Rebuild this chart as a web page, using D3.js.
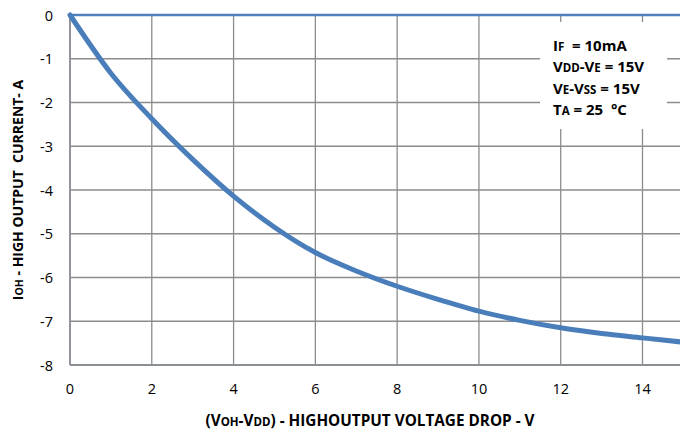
<!DOCTYPE html>
<html>
<head>
<meta charset="utf-8">
<script src="https://cdn.jsdelivr.net/npm/d3@7"></script>
<style>
  body { margin: 0; background: #fff; }
  svg { display: block; font-family: "Open Sans", Lato, sans-serif; }
  .grid line { stroke: #8c8c8c; stroke-width: 1.3; }
  .tick-label { font-size: 14.5px; fill: #000; }
  .title { font-size: 15.3px; font-weight: bold; fill: #000; }
  .note { font-size: 15px; font-weight: bold; fill: #000; }
</style>
</head>
<body>
<div id="chart"></div>
<script>
// curve
const dropV = [0, 1, 2, 3, 4, 5, 6, 7, 8, 9, 10, 11, 12, 13, 14, 15];
const currentA = [0, -1.33, -2.37, -3.3, -4.14, -4.85, -5.43, -5.85, -6.2, -6.5, -6.77, -6.98, -7.15, -7.28, -7.38, -7.48];
const xTicks = [0, 2, 4, 6, 8, 10, 12, 14];
const yTicks = [0, -1, -2, -3, -4, -5, -6, -7, -8];

const width = 680, height = 438;
const plotLeft = 70, plotTop = 15, plotBottom = 365;

const svg = d3.select("#chart").append("svg")
    .attr("width", width)
    .attr("height", height);

const x = d3.scaleLinear().domain([0, 14]).range([plotLeft, 642.5]);
const y = d3.scaleLinear().domain([0, -8]).range([plotTop, plotBottom]);

// grid
const grid = svg.append("g").attr("class", "grid");
grid.selectAll(".v").data(xTicks).enter().append("line")
    .attr("x1", d => x(d)).attr("x2", d => x(d))
    .attr("y1", plotTop).attr("y2", plotBottom);
grid.selectAll(".h").data(yTicks).enter().append("line")
    .attr("x1", plotLeft).attr("x2", width)
    .attr("y1", d => y(d)).attr("y2", d => y(d));

// axis lines
svg.append("line")
    .attr("x1", plotLeft).attr("x2", width)
    .attr("y1", plotBottom).attr("y2", plotBottom)
    .attr("stroke", "#8a8f96").attr("stroke-width", 2.2);
svg.append("line")
    .attr("x1", plotLeft).attr("x2", plotLeft)
    .attr("y1", plotTop).attr("y2", plotBottom)
    .attr("stroke", "#8a8f96").attr("stroke-width", 1.6);

// tick labels
svg.selectAll(".xl").data(xTicks).enter().append("text")
    .attr("class", "tick-label")
    .attr("x", d => x(d)).attr("y", 394)
    .attr("text-anchor", "middle")
    .text(d => d);
svg.selectAll(".yl").data(yTicks).enter().append("text")
    .attr("class", "tick-label")
    .attr("x", 53).attr("y", d => y(d) + 5.5)
    .attr("text-anchor", "end")
    .text(d => d);

// legend box covers the grid
svg.append("rect")
    .attr("x", 540).attr("y", 22)
    .attr("width", 127).attr("height", 107)
    .attr("fill", "#fff");

// top line, blue
svg.append("line")
    .attr("x1", plotLeft).attr("x2", width)
    .attr("y1", plotTop).attr("y2", plotTop)
    .attr("stroke", "#4F81BD").attr("stroke-width", 2.5);

// curve
const line = d3.line()
    .x(d => x(d[0]))
    .y(d => y(d[1]))
    .curve(d3.curveMonotoneX);

svg.append("path")
    .datum(dropV.map((v, i) => [v, currentA[i]]))
    .attr("d", line)
    .attr("fill", "none")
    .attr("stroke", "#4a7ebb")
    .attr("stroke-width", 5)
    .attr("stroke-linecap", "round");

// conditions text, [text, small?] pieces
const notes = [
    [["I", 0], ["F", 1], ["  = 10mA", 0]],
    [["V", 0], ["DD", 1], ["-V", 0], ["E", 1], [" = 15V", 0]],
    [["V", 0], ["E", 1], ["-V", 0], ["SS", 1], [" = 15V", 0]],
    [["T", 0], ["A", 1], [" = 25  \u00b0C", 0]]
];
notes.forEach((parts, i) => {
    const t = svg.append("text")
        .attr("class", "note")
        .attr("x", 553).attr("y", 51 + i * 21.4)
        .attr("xml:space", "preserve");
    parts.forEach(p => {
        t.append("tspan")
            .style("font-size", p[1] ? "11.5px" : null)
            .text(p[0]);
    });
});

// axis titles
const xt = svg.append("text")
    .attr("class", "title")
    .attr("x", 370).attr("y", 426)
    .attr("text-anchor", "middle");
[["(V", 0], ["OH", 1], ["-V", 0], ["DD", 1], [") - HIGHOUTPUT VOLTAGE DROP - V", 0]].forEach(p => {
    xt.append("tspan").style("font-size", p[1] ? "11.5px" : null).text(p[0]);
});

const yt = svg.append("text")
    .attr("class", "title")
    .style("font-size", "14px")
    .attr("transform", "translate(23,190) rotate(-90)")
    .attr("text-anchor", "middle")
    .attr("xml:space", "preserve");
[["I", 0], ["OH", 1], [" - HIGH OUTPUT  CURRENT- A", 0]].forEach(p => {
    yt.append("tspan").style("font-size", p[1] ? "10.5px" : null).text(p[0]);
});
</script>
</body>
</html>
